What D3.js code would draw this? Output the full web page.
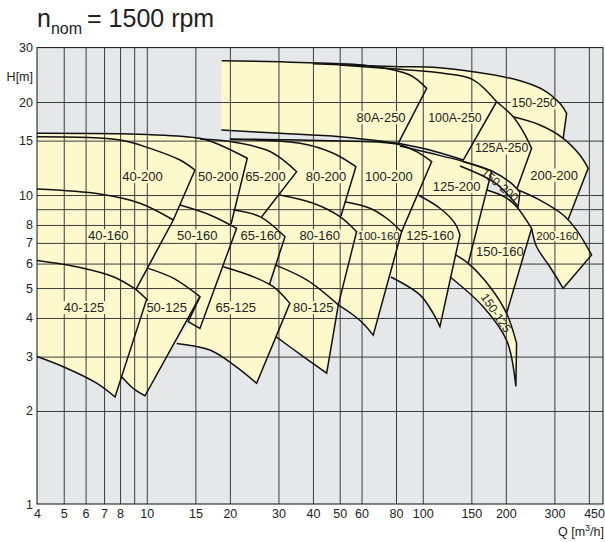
<!DOCTYPE html>
<html>
<head>
<meta charset="utf-8">
<script src="https://cdn.jsdelivr.net/npm/d3@7"></script>
<style>
  body { margin: 0; background: #fff; }
  text { font-family: "Liberation Sans", Arial, Helvetica, sans-serif; fill: #222; }
</style>
</head>
<body>
<svg id="chart" width="605" height="542"></svg>
<script>
// pump sizes, one entry per field of the overview chart
const pumpNames = ["40-125", "40-160", "40-200", "50-125", "50-160", "50-200",
  "65-125", "65-160", "65-200", "80-125", "80-160", "80-200", "100-160", "100-200",
  "125-160", "125-200", "150-125", "150-160", "150-200", "200-160", "200-200",
  "125A-250", "100A-250", "80A-250", "150-250"];

// upper curve of each field (largest impeller), [Q m3/h, H m], left to right
const tops = [
  [[4, 6.14], [5.73, 5.83], [7.56, 5.44], [9.14, 4.95]],
  [[4, 10.45], [6.76, 10.07], [9.44, 9.4], [12.47, 8.3]],
  [[4, 15.44], [8, 15.07], [10.27, 14.16], [13.19, 12.98], [14.95, 12.04]],
  [[10.12, 5.79], [12.47, 5.38], [15.58, 4.69]],
  [[13.19, 9.28], [16.94, 8.62], [21.16, 7.8]],
  [[4, 15.84], [10, 15.7], [15.58, 15.26], [18.41, 14.52], [23.12, 13.15]],
  [[18.93, 5.86], [24.31, 5.44], [28.72, 5.05], [33.0, 4.46]],
  [[20.57, 8.94], [25.7, 8.51], [31.67, 7.33]],
  [[15.58, 15.18], [20, 14.9], [27.19, 13.98], [31.22, 12.98], [34.92, 11.9]],
  [[29.13, 5.94], [37.96, 5.31], [49.43, 4.41]],
  [[30.37, 10.0], [40.1, 9.4], [50.1, 8.51], [57.57, 7.61]],
  [[20, 15.12], [35.89, 14.7], [47.4, 13.65], [57.24, 12.35]],
  [[52.2, 9.51], [64.4, 9.06], [73.96, 8.41], [83.83, 7.61]],
  [[20, 15.18], [42.4, 15.01], [80.4, 14.62], [95, 13.81], [107.7, 12.82]],
  [[96.28, 10.0], [115.4, 9.06], [130.8, 8.1], [136.4, 7.42]],
  [[82.6, 14.41], [106, 13.67], [140.2, 12.84], [177.7, 11.96]],
  [[131.4, 6.4], [146.1, 6.01], [175.1, 5.05], [201.3, 4.14], [218.8, 3.31]],
  [[170.8, 10.38], [198.5, 9.85], [218.8, 9.17], [248, 7.8]],
  [[140.2, 12.84], [177.7, 11.96], [206.9, 11.01], [224.9, 10.22]],
  [[221.7, 10.38], [265.8, 9.63], [322.8, 8.62], [361.1, 7.7], [409.1, 6.4]],
  [[212.7, 17.92], [265.8, 16.85], [322.8, 15.26], [371, 13.47], [397.6, 12.2]],
  [[185.2, 20.04], [212.7, 17.92], [231.2, 16.03], [248, 14.16]],
  [[50, 26.35], [82.6, 25.51], [118.6, 24.77], [152.3, 23.6], [185.2, 20.04]],
  [[18.68, 27.21], [35.89, 26.85], [62.6, 26.25], [89.8, 24.45], [103.3, 22.14]],
  [[40, 26.6], [82.6, 26.02], [109.1, 25.9], [152.3, 25.06], [218.8, 23.6], [273.2, 21.9], [314, 19.81], [332.2, 18.38]]
];

// corner points on the right-hand limit line between upper and lower curve
const corners = [
  [[9.99, 4.6]], [], [], [], [[15.58, 3.7], [14.13, 3.89]], [], [], [], [], [], [], [], [],
  [], [], [], [], [], [], [], [], [], [], [], []
];

// lower curve of each field (smallest impeller), right to left
const bottoms = [
  [[7.67, 2.22], [6.58, 2.46], [4.98, 2.78], [4, 3.0]],
  [[9.14, 4.95], [7.56, 5.44], [5.73, 5.83], [4, 6.14]],
  [[12.47, 8.3], [9.44, 9.4], [6.76, 10.07], [4, 10.45]],
  [[9.85, 2.24], [8.91, 2.37], [8.11, 2.58]],
  [[15.58, 4.69], [12.47, 5.38], [10.12, 5.79]],
  [[20.2, 8.06], [16.94, 8.62], [13.19, 9.28]],
  [[25.0, 2.46], [20.87, 2.8], [16.94, 3.15], [12.83, 3.31]],
  [[27.8, 5.12], [24.31, 5.44], [18.93, 5.86]],
  [[26.08, 8.51], [20.57, 8.94]],
  [[44.85, 2.65], [36.9, 3.0], [29.38, 3.48]],
  [[49.43, 4.41], [37.96, 5.31], [29.13, 5.94]],
  [[50.54, 8.55], [40.1, 9.4], [30.37, 10.0]],
  [[66.15, 3.52], [60.84, 3.84], [55.98, 4.09], [49.43, 4.41]],
  [[83.83, 7.61], [73.96, 8.41], [64.4, 9.06], [52.2, 9.51]],
  [[115.4, 3.75], [109.1, 4.14], [97.7, 4.75], [76.68, 5.43]],
  [[146.1, 6.01], [131.4, 6.4], [136.4, 7.42], [130.8, 8.1], [115.4, 9.06], [96.28, 10.0]],
  [[217.5, 2.4], [201.3, 3.39], [165.6, 4.35], [125.4, 5.44]],
  [[201.3, 4.14], [175.1, 5.05], [146.1, 6.01]],
  [[221.7, 9.17], [206.9, 9.87], [180.1, 11.04], [136.4, 12.41]],
  [[322.8, 4.99], [288.8, 5.86], [258.6, 6.8], [248, 7.8]],
  [[335.8, 8.3], [322.8, 8.62], [265.8, 9.63], [221.7, 10.38]],
  [[219.3, 10.46], [180.1, 11.9], [140.2, 12.84]],
  [[140.2, 12.98], [106, 13.98], [81.49, 14.7]],
  [[81.49, 14.7], [50.1, 15.44], [30.37, 15.84], [18.6, 16.23]],
  [[322.8, 15.26], [265.8, 16.85], [212.7, 17.92], [185.2, 20.04], [152.3, 23.6], [118.6, 24.77], [82.6, 25.51]]
];

// extra points of the left border (fill only), where it is not a straight line
const lefts = [
  [], [], [], [[9.99, 4.6], [9.14, 4.95]], [], [], [], [], [], [],
  [[31.67, 7.33], [26.08, 8.51]], [], [[57.57, 7.61], [50.54, 8.55]], [],
  [[83.83, 7.61]], [], [], [], [], [[221.7, 9.17]], [], [], [], [[18.6, 15.2]], []
];

// fields whose lower curve is a line of its own (others lie on a neighbour)
const freeBottoms = ["40-125", "50-125", "65-125", "80-125", "100-160", "125-160",
  "150-125", "200-160", "80A-250", "100A-250", "150-200"];

// where each field name sits [Q, H]
const labelPoints = [
  [5.92, 4.32], [7.25, 7.38], [9.65, 11.47], [11.8, 4.32], [15.23, 7.37], [18.16, 11.47],
  [21.0, 4.32], [25.9, 7.38], [26.9, 11.47], [40.1, 4.32], [42.3, 7.38], [44.6, 11.47],
  [69.2, 7.38], [75.4, 11.47], [106.4, 7.38], [132.6, 10.64], [184.1, 4.15], [190.4, 6.55],
  [190.4, 10.77], [307.6, 7.35], [299.2, 11.6], [193.1, 14.16], [130.8, 17.79], [70.6, 17.79],
  [253.3, 19.81]
];

const xTicks = [4, 5, 6, 7, 8, 10, 15, 20, 30, 40, 50, 60, 80, 100, 150, 200, 300, 450];
const xGrid = [5, 6, 7, 8, 9, 10, 15, 20, 30, 40, 50, 60, 80, 100, 150, 200, 300, 400];
const yTicks = [1, 2, 3, 4, 5, 6, 7, 8, 10, 15, 20, 30];
const yGrid = [2, 3, 4, 5, 6, 7, 8, 9, 10, 15, 20];

const yellow = "#fef9cd";
const grey = "#e6e7e9";
const rotated = { "150-125": 56, "150-200": 40 };
const smallFont = { "100-160": 11.5, "200-160": 11.5, "150-250": 12.3, "125A-250": 12.3, "100A-250": 12.3, "150-125": 12, "150-200": 12 };

const svg = d3.select("#chart");
const x = d3.scaleLog().domain([4, 450]).range([37, 603]);
const y = d3.scaleLog().domain([1, 30]).range([504, 47.6]);
const [x0, x1] = x.range();
const [y0, y1] = y.range();

// title
const title = svg.append("text").attr("x", x0).attr("y", 27).attr("font-size", 25);
title.append("tspan").text("n");
title.append("tspan").attr("dy", 6.5).attr("font-size", 16).text("nom");
title.append("tspan").attr("dy", -6.5).attr("dx", 5).text("= 1500 rpm");

// plot background
svg.append("rect").attr("x", x0).attr("y", y1).attr("width", x1 - x0).attr("height", y0 - y1).attr("fill", grey);

const curve = d3.line().x(d => x(d[0])).y(d => y(d[1])).curve(d3.curveCatmullRom.alpha(0.5));
const straight = pts => pts.map(d => `L${x(d[0])},${y(d[1])}`).join("");

function outline(i, closed) {
  const top = curve(tops[i]);
  const edge = straight(corners[i]);
  const bot = curve(bottoms[i]).replace(/^M/, "L");
  if (closed) return top + edge + bot + straight(lefts[i]) + "Z";
  const b = freeBottoms.includes(pumpNames[i]) ? bot : straight(bottoms[i].slice(0, 1));
  return top + edge + b;
}

// fields
svg.append("g").selectAll("path").data(pumpNames).join("path")
  .attr("d", (d, i) => outline(i, true))
  .attr("fill", yellow);

// grid
svg.append("g").attr("transform", `translate(0,${y0})`)
  .call(d3.axisBottom(x).tickValues(xGrid).tickSize(-(y0 - y1)).tickFormat(""))
  .call(g => g.select(".domain").remove())
  .selectAll("line").attr("stroke", "#3c3c3c").attr("stroke-width", 1);
svg.append("g").attr("transform", `translate(${x0},0)`)
  .call(d3.axisLeft(y).tickValues(yGrid).tickSize(-(x1 - x0)).tickFormat(""))
  .call(g => g.select(".domain").remove())
  .selectAll("line").attr("stroke", "#3c3c3c").attr("stroke-width", 1);

const bgLayer = svg.append("g");
const lineLayer = svg.append("g");
const textLayer = svg.append("g");

// field outlines
lineLayer.selectAll("path").data(pumpNames).join("path")
  .attr("d", (d, i) => outline(i, false))
  .attr("fill", "none")
  .attr("stroke", "#111")
  .attr("stroke-width", 1.5)
  .attr("stroke-linejoin", "miter");

// frame
svg.append("rect").attr("x", x0).attr("y", y1).attr("width", x1 - x0).attr("height", y0 - y1)
  .attr("fill", "none").attr("stroke", "#111").attr("stroke-width", 1);

// field names
pumpNames.forEach((n, i) => {
  const px = x(labelPoints[i][0]), py = y(labelPoints[i][1]);
  const t = textLayer.append("text")
    .attr("x", px).attr("y", py)
    .attr("text-anchor", "middle").attr("dominant-baseline", "central")
    .attr("font-size", smallFont[n] || 13)
    .text(n);
  if (rotated[n]) {
    t.attr("transform", `rotate(${rotated[n]},${px},${py})`);
  } else {
    const b = t.node().getBBox();
    bgLayer.append("rect").attr("x", b.x - 1).attr("y", b.y + 1)
      .attr("width", b.width + 2).attr("height", b.height - 2).attr("fill", yellow);
  }
});

// axes
const xAxis = svg.append("g").attr("transform", `translate(0,${y0})`)
  .call(d3.axisBottom(x).tickValues(xTicks).tickSize(0).tickPadding(5).tickFormat(d3.format("d")));
xAxis.select(".domain").remove();
xAxis.selectAll("text").attr("font-size", 12.5).attr("fill", "#222")
  .filter(d => d === 450).attr("text-anchor", "end").attr("x", 1.5);

const yAxis = svg.append("g").attr("transform", `translate(${x0},0)`)
  .call(d3.axisLeft(y).tickValues(yTicks).tickSize(0).tickPadding(4).tickFormat(d3.format("d")));
yAxis.select(".domain").remove();
yAxis.selectAll("text").attr("font-size", 12.5).attr("fill", "#222");

svg.append("text").attr("x", x0 - 4).attr("y", 77).attr("text-anchor", "end")
  .attr("dominant-baseline", "central").attr("font-size", 12.5).text("H[m]");

const qLabel = svg.append("text").attr("x", 604).attr("y", 536).attr("text-anchor", "end").attr("font-size", 12.5);
qLabel.append("tspan").text("Q [m");
qLabel.append("tspan").attr("dy", -5).attr("font-size", 9).text("3");
qLabel.append("tspan").attr("dy", 5).text("/h]");
</script>
</body>
</html>
